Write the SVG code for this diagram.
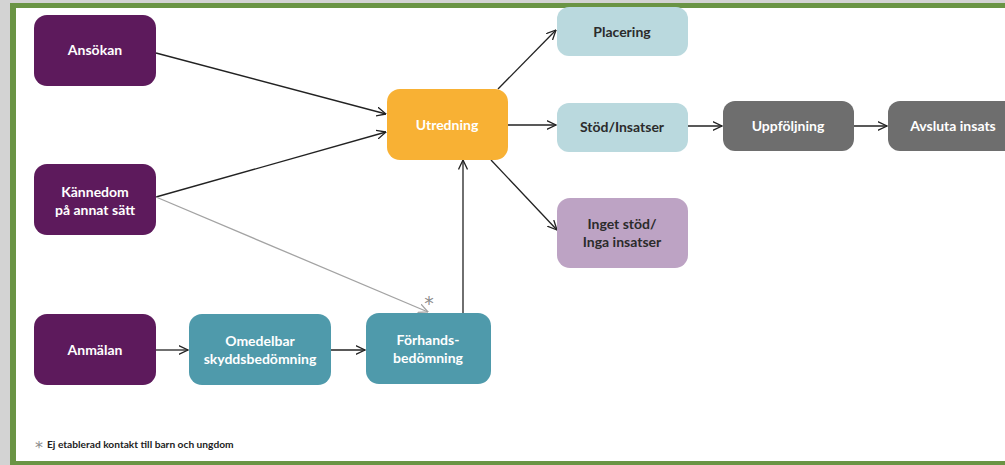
<svg xmlns="http://www.w3.org/2000/svg" width="1005" height="465" viewBox="0 0 1005 465">
<defs>
<style>
.n text{font-family:Lato,"Open Sans","DejaVu Sans",sans-serif;font-weight:bold;font-size:14px;text-anchor:middle}
.w{fill:#ffffff}
.d{fill:#2b2b2b}
.purple{fill:#5d1a5c}
.teal{fill:#4f9aab}
.orange{fill:#f8b134}
.lblue{fill:#bad9de}
.gray{fill:#6e6e6e}
.lav{fill:#bda3c4}
.c path{fill:none;stroke:#222;stroke-width:1.3}
.c path.g{stroke:#a3a3a3}
.ast{font-family:"DejaVu Sans",sans-serif;fill:#8c8c8c;text-anchor:middle}
</style>
<marker id="ah" viewBox="0 0 10 10" refX="9.5" refY="5" markerWidth="10" markerHeight="10" markerUnits="userSpaceOnUse" orient="auto">
<path d="M0,0.5 L9.5,5 L0,9.5" fill="none" stroke="#222" stroke-width="1.3"/>
</marker>
<marker id="ahg" viewBox="0 0 10 10" refX="9.5" refY="5" markerWidth="10" markerHeight="10" markerUnits="userSpaceOnUse" orient="auto">
<path d="M0,0.5 L9.5,5 L0,9.5" fill="none" stroke="#a3a3a3" stroke-width="1.3"/>
</marker>
</defs>
<rect x="0" y="0" width="1005" height="465" fill="#d3d3d3"/>
<rect x="10" y="3" width="1005" height="462" fill="#6a9444"/>
<rect x="16" y="8" width="995" height="453" fill="#ffffff"/>

<g class="c" id="connectors">
<path d="M156,53 L386,114" marker-end="url(#ah)"/>
<path d="M156,197 L386,132" marker-end="url(#ah)"/>
<path class="g" d="M156,197 L428,312" marker-end="url(#ahg)"/>
<path d="M156,350 L188,350" marker-end="url(#ah)"/>
<path d="M331,350 L365,350" marker-end="url(#ah)"/>
<path d="M463,313 L463,160" marker-end="url(#ah)"/>
<path d="M498,89 L556,30" marker-end="url(#ah)"/>
<path d="M508,125 L556,125" marker-end="url(#ah)"/>
<path d="M491,160 L557,230" marker-end="url(#ah)"/>
<path d="M688,126 L722,126" marker-end="url(#ah)"/>
<path d="M854,126 L887,126" marker-end="url(#ah)"/>
</g>

<g class="n" id="ansokan"><rect class="purple" x="34" y="15" width="122" height="71" rx="13"/><text class="w" x="95" y="55">Ansökan</text></g>
<g class="n" id="kannedom"><rect class="purple" x="34" y="164" width="122" height="71" rx="13"/><text class="w" x="95" y="197">Kännedom</text><text class="w" x="95" y="215">på annat sätt</text></g>
<g class="n" id="anmalan"><rect class="purple" x="34" y="314" width="122" height="71" rx="13"/><text class="w" x="95" y="355">Anmälan</text></g>
<g class="n" id="omedelbar"><rect class="teal" x="189" y="314" width="142" height="71" rx="13"/><text class="w" x="260" y="346">Omedelbar</text><text class="w" x="260" y="364">skyddsbedömning</text></g>
<g class="n" id="forhands"><rect class="teal" x="366" y="313" width="125" height="71" rx="13"/><text class="w" x="428" y="345">Förhands-</text><text class="w" x="428" y="363">bedömning</text></g>
<g class="n" id="utredning"><rect class="orange" x="387" y="89" width="121" height="71" rx="13"/><text class="w" x="447" y="130">Utredning</text></g>
<g class="n" id="placering"><rect class="lblue" x="557" y="7" width="131" height="49" rx="12"/><text class="d" x="622" y="37">Placering</text></g>
<g class="n" id="stod"><rect class="lblue" x="557" y="103" width="131" height="49" rx="12"/><text class="d" x="622" y="132">Stöd/Insatser</text></g>
<g class="n" id="inget"><rect class="lav" x="557" y="198" width="131" height="70" rx="13"/><text class="d" x="622" y="229">Inget stöd/</text><text class="d" x="622" y="247">Inga insatser</text></g>
<g class="n" id="uppfoljning"><rect class="gray" x="723" y="101" width="131" height="50" rx="12"/><text class="w" x="788" y="131">Uppföljning</text></g>
<g class="n" id="avsluta"><rect class="gray" x="888" y="101" width="131" height="50" rx="12"/><text class="w" x="953" y="131">Avsluta insats</text></g>

<g id="footnote">
<text class="ast" x="429" y="310" font-size="19">*</text>
<text class="ast" x="39" y="453" font-size="16">*</text>
<text x="47" y="448" font-family="Lato,'Open Sans',sans-serif" font-weight="bold" font-size="10.2" fill="#222">Ej etablerad kontakt till barn och ungdom</text>
</g>
</svg>
